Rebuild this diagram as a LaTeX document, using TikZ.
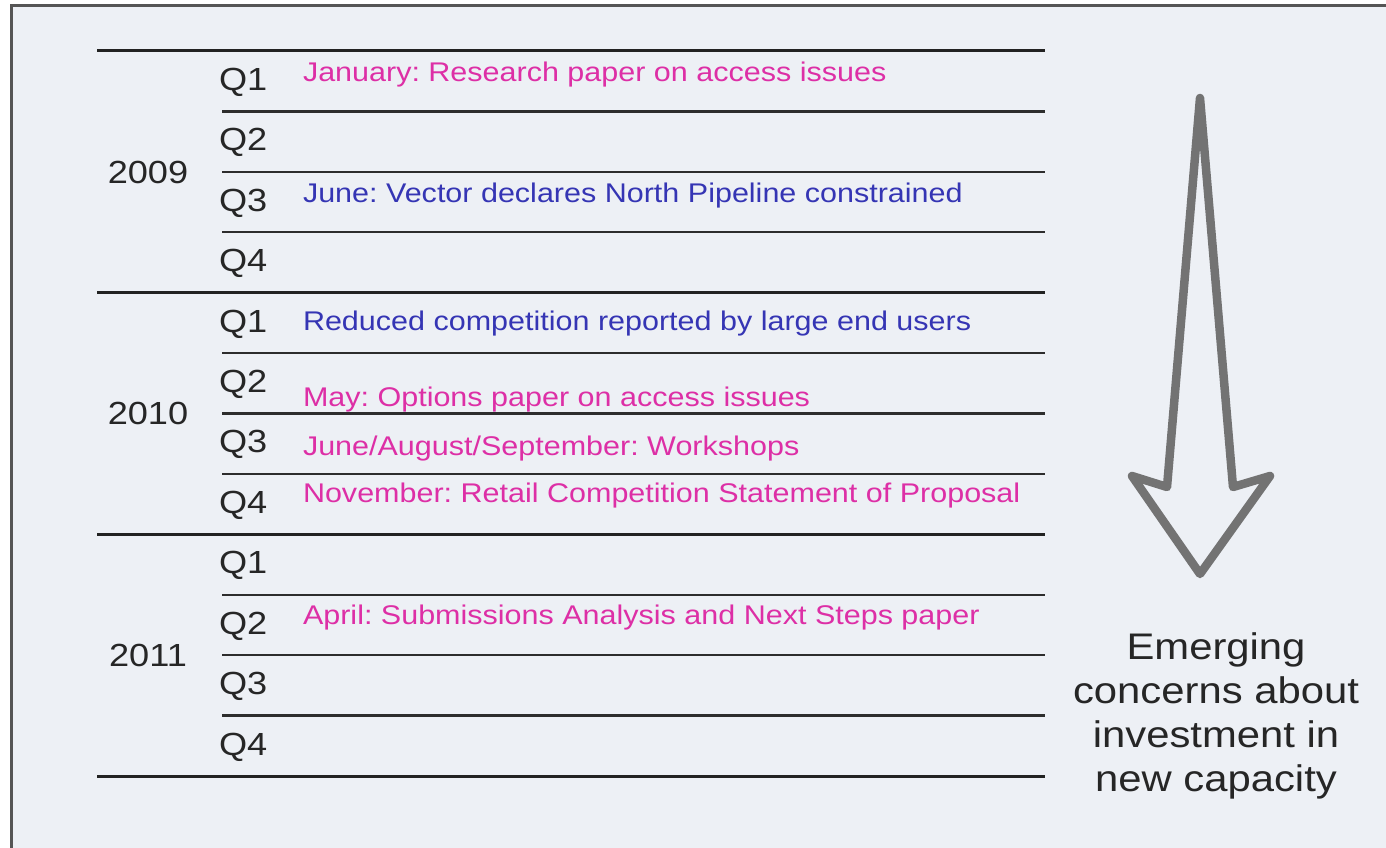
\documentclass[tikz,border=0pt]{standalone}
\usepackage{fontspec}
\setmainfont[FakeStretch=1.13]{Liberation Sans}
\usetikzlibrary{positioning}

\definecolor{panelbg}{HTML}{EDF0F5}
\definecolor{framegray}{HTML}{555555}
\definecolor{rulegray}{HTML}{222222}
\definecolor{evpink}{HTML}{DD2FA6}
\definecolor{evblue}{HTML}{3535B4}
\definecolor{arrowgray}{HTML}{737373}

\frenchspacing

\begin{document}
\begin{tikzpicture}[
x=1pt, y=-1pt,
every node/.style={inner sep=0pt, outer sep=0pt},
yearlabel/.style={font=\fontsize{32}{36}\selectfont, text=black!85, anchor=base},
quarter/.style={font=\fontsize{32}{36}\selectfont, text=black!85, anchor=base west},
event/.style={font=\fontsize{27}{30}\selectfont, anchor=base west},
pinkevent/.style={event, text=evpink},
blueevent/.style={event, text=evblue},
yearrule/.style={draw=rulegray, line width=3pt},
qrule/.style={draw=rulegray!95, line width=2.4pt},
bigarrow/.style={draw=arrowgray, line width=8.5pt, line join=round}
]

\fill[white] (0,0) rectangle (1386,848);
\useasboundingbox (0,0) rectangle (1386,848);
\draw[draw=framegray, line width=3pt, fill=panelbg] (11,6) rectangle (1420,880);

% year blocks
\foreach \yr [count=\i from 0] in {2009,2010,2011} {
  \pgfmathsetmacro\ytop{51+241.7*\i}
  \draw[yearrule] (97,\ytop) -- (1045,\ytop);
  \node[yearlabel] (year-\yr) at (148,\ytop+132) {\yr};
  \foreach \k in {1,2,3,4} {
    \node[quarter] (q-\yr-\k) at (219,\ytop+60.4*\k-21) {Q\k};
  }
  \foreach \k in {1,2,3} {
    \draw[qrule] (222,\ytop+60.4*\k) -- (1045,\ytop+60.4*\k);
  }
}
\draw[yearrule] (97,776) -- (1045,776);

% events
\node[pinkevent] (jan09) at (303,82) {January: Research paper on access issues};
\node[blueevent] (jun09) at (303,202) {June: Vector declares North Pipeline constrained};
\node[blueevent] (users10) at (303,330) {Reduced competition reported by large end users};
\node[pinkevent] (may10) at (303,406) {May: Options paper on access issues};
\node[pinkevent] (workshops10) at (303,455) {June/August/September: Workshops};
\node[pinkevent] (nov10) at (303,502) {November: Retail Competition Statement of Proposal};
\node[pinkevent] (apr11) at (303,624) {April: Submissions Analysis and Next Steps paper};

% arrow and note
\draw[bigarrow] (1200,98) -- (1167,487) -- (1132,476) -- (1200,574)
  -- (1270,476) -- (1233,487) -- cycle;
\node[font=\fontsize{37}{44}\selectfont, text=black!85, align=center, anchor=north]
  (concerns) at (1216,633) {Emerging\\concerns about\\investment in\\new capacity};

\end{tikzpicture}
\end{document}
